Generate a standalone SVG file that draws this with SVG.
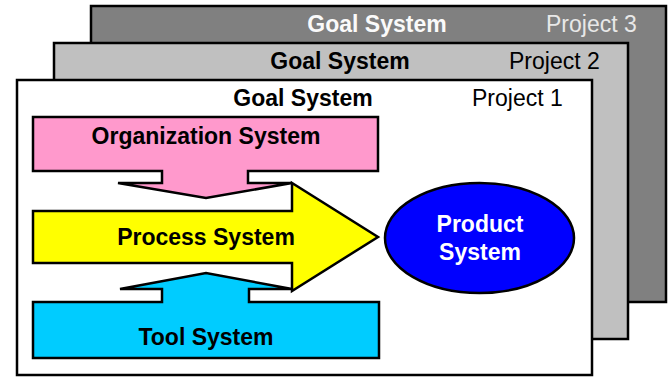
<svg xmlns="http://www.w3.org/2000/svg" width="669" height="377" viewBox="0 0 669 377">
<style>
.sh{stroke:#000;stroke-width:2.5;stroke-linejoin:miter}
.t{font-family:"Liberation Sans",Arial,sans-serif;font-size:23px}
.b{font-weight:bold}
.m{text-anchor:middle}
</style>
<rect width="669" height="377" fill="#fff"/>
<g id="project3">
<rect class="sh" x="91" y="6" width="575" height="296" fill="#808080"/>
<text class="t b m" x="377" y="32" fill="#fafafa">Goal System</text>
<text class="t" x="546" y="32" fill="#e8e8e8">Project 3</text>
</g>
<g id="project2">
<rect class="sh" x="54" y="43" width="574" height="296" fill="#c0c0c0"/>
<text class="t b m" x="340" y="69" fill="#000">Goal System</text>
<text class="t" x="509" y="69" fill="#000">Project 2</text>
</g>
<g id="project1">
<rect class="sh" x="17" y="80" width="575" height="295" fill="#fff"/>
<text class="t b m" x="303" y="106" fill="#000">Goal System</text>
<text class="t" x="472" y="106" fill="#000">Project 1</text>
</g>
<g id="organization-system">
<path class="sh" d="M33,117 H378 V171 H248 V183 H292 L206,198 L118,183 H162 V171 H33 Z" fill="#ff99cc"/>
<text class="t b m" x="206" y="144" fill="#000">Organization System</text>
</g>
<g id="tool-system">
<path class="sh" d="M33,358 H379 V302 H249 V289 H292 L206,273 L120,289 H162 V302 H33 Z" fill="#00ccff"/>
<text class="t b m" x="206" y="345" fill="#000">Tool System</text>
</g>
<g id="process-system">
<path class="sh" d="M33,211 H292 V183 L378,237 L292,291 V263 H33 Z" fill="#ffff00"/>
<text class="t b m" x="206" y="245" fill="#000">Process System</text>
</g>
<g id="product-system">
<ellipse class="sh" cx="479.5" cy="238" rx="94.5" ry="55" fill="#0000ff"/>
<text class="t b m" x="480" y="232" fill="#fff">Product</text>
<text class="t b m" x="480" y="260" fill="#fff">System</text>
</g>
</svg>
